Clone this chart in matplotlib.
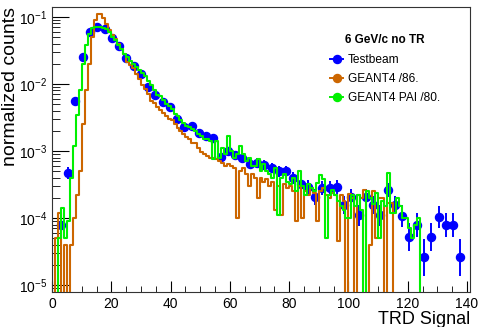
import numpy as np
import matplotlib
matplotlib.use("Agg")
import matplotlib.pyplot as plt
from matplotlib.lines import Line2D
from matplotlib.ticker import LogLocator, MultipleLocator, NullFormatter

plt.rcParams['font.family'] = ['Liberation Sans', 'DejaVu Sans']
plt.rcParams['mathtext.fontset'] = 'custom'
plt.rcParams['mathtext.rm'] = 'Liberation Sans'
plt.rcParams['mathtext.it'] = 'Liberation Sans:italic'
plt.rcParams['mathtext.bf'] = 'Liberation Sans:bold'

# testbeam: bin width and first bin centre (TRD signal units)
tb_first = 3.0
tb_width = 2.45
tb_counts = [7.9e-5, 4.7e-4, 5.6e-3, 2.53e-2, 5.97e-2, 7.1e-2, 6.6e-2, 4.86e-2, 3.69e-2, 2.44e-2,
             1.86e-2, 1.41e-2, 9.0e-3, 6.85e-3, 5.38e-3, 4.54e-3, 3.0e-3, 2.28e-3, 2.36e-3, 1.86e-3,
             1.67e-3, 1.56e-3, 8.1e-4, 1.0e-3, 8.7e-4, 7.9e-4, 6.4e-4, 6.6e-4, 6.2e-4, 5.6e-4,
             5.0e-4, 5.0e-4, 3.95e-4, 3.2e-4, 2.9e-4, 2.06e-4, 2.8e-4, 2.8e-4, 2.9e-4, 1.56e-4,
             2.06e-4, 1.11e-4, 2.06e-4, 1.56e-4, 1.11e-4, 2.62e-4, 1.56e-4, 1.07e-4, 5.2e-5, 7.9e-5,
             2.6e-5, 5.2e-5, 1.04e-4, 7.9e-5, 7.9e-5, 2.6e-5]
one_count = 2.1e-5  # approx. normalized value of a single entry

# simulations, 1 unit bins starting at 0
sim_width = 1.0
g4_counts = [0, 5e-5, 1.2e-4, 0, 4e-5, 0, 4e-5, 1e-4, 2.2e-4, 5e-4,
             2.5e-3, 8e-3, 2.0e-2, 5.0e-2, 0.09, 0.112, 0.112, 0.095, 0.078, 0.064,
             0.053, 0.046, 0.040, 0.033, 0.028, 0.021, 0.019, 0.017, 0.014, 0.012,
             0.0098, 0.0085, 0.0072, 0.0055, 0.0052, 0.0046, 0.0041, 0.0037, 0.0033, 0.0030,
             0.0029, 0.0025, 0.0022, 0.0020, 0.0018, 0.0016, 0.0015, 0.0013, 0.0013, 0.0011,
             9.8e-4, 9e-4, 8.5e-4, 8e-4, 7.9e-4, 7.5e-4, 7e-4, 6.6e-4, 6e-4, 6.5e-4,
             6e-4, 5.5e-4, 1e-4, 5e-4, 5.5e-4, 4.5e-4, 3e-4, 4.5e-4, 4e-4, 2e-4,
             4e-4, 3.5e-4, 3.8e-4, 3e-4, 3.5e-4, 1.3e-4, 3e-4, 1.1e-4, 3.2e-4, 2.8e-4,
             3e-4, 2.5e-4, 9e-5, 3e-4, 1e-4, 2.5e-4, 2.2e-4, 2.8e-4, 2.4e-4, 9e-5,
             2.5e-4, 2.8e-4, 2.2e-4, 2.0e-4, 2.4e-4, 2.2e-4, 4.5e-5, 2.2e-4, 1.8e-4, 0,
             2.3e-4, 2.0e-4, 0, 2.2e-4, 2.0e-4, 2.6e-4, 0, 4e-5, 2.5e-4, 5e-5,
             2.0e-4, 2.0e-4, 0, 1.7e-4, 1.7e-4, 0, 0, 0, 0, 0]
pai_counts = [0, 0, 5e-5, 1.4e-4, 5e-5, 9e-5, 4e-4, 1.2e-3, 3.5e-3, 8e-3,
              0.02, 0.038, 0.055, 0.068, 0.071, 0.071, 0.070, 0.068, 0.066, 0.060,
              0.050, 0.045, 0.038, 0.033, 0.028, 0.025, 0.022, 0.020, 0.018, 0.016,
              0.0145, 0.013, 0.011, 0.0095, 0.0080, 0.0068, 0.0065, 0.0058, 0.0050, 0.0047,
              0.0042, 0.0036, 0.0033, 0.0029, 0.0026, 0.0024, 0.0023, 0.0021, 0.0020, 0.0018,
              0.0017, 0.0015, 0.0015, 0.0014, 7.5e-4, 1.4e-3, 8e-4, 1.1e-3, 9e-4, 1.7e-3,
              1.0e-3, 8e-4, 9e-4, 1.2e-3, 9e-4, 7e-4, 8e-4, 6e-4, 6e-4, 7.5e-4,
              5e-4, 6.5e-4, 5e-4, 4.5e-4, 4e-4, 5.5e-4, 1.1e-4, 4e-4, 4.5e-4, 3.5e-4,
              3.2e-4, 4e-4, 2.5e-4, 5e-4, 3e-4, 2.2e-4, 3.2e-4, 2.8e-4, 2.5e-4, 3.3e-4,
              4.4e-4, 3.8e-4, 5e-5, 2.2e-4, 2.6e-4, 2.2e-4, 1.8e-4, 1.5e-4, 1.3e-4, 1.0e-4,
              1.0e-4, 2.2e-4, 1.5e-4, 2.2e-4, 1.3e-4, 0, 2.5e-4, 2.0e-4, 1.6e-4, 2.4e-4,
              5e-5, 1.8e-4, 1.5e-4, 4.7e-4, 1.2e-4, 1.2e-4, 2.0e-4, 1.5e-4, 1.0e-4, 1.0e-4,
              7e-5, 5e-5, 8e-5, 1.0e-4, 0, 0, 0, 0]

labels = ['Testbeam', 'GEANT4 /86.', 'GEANT4 PAI /80.']
header = '6 GeV/c no TR'

c_tb = '#0000ff'
c_g4 = '#cc6600'
c_pai = '#00f000'

fig = plt.figure(figsize=(4.82, 3.27), dpi=100)
ax = fig.add_axes([0.108, 0.107, 0.867, 0.872])

# testbeam points
tb_y = np.array(tb_counts)
tb_x = tb_first + tb_width * np.arange(len(tb_y))
fac = 1 + 1 / np.sqrt(tb_y / one_count)
yerr = [tb_y - tb_y / fac, tb_y * fac - tb_y]
ax.errorbar(tb_x, tb_y, yerr=yerr, fmt='o', color=c_tb, ms=5.8, elinewidth=1.4,
            capsize=0, zorder=2)

# simulated histograms (empty bins drop to the bottom like ROOT)
def draw_hist(vals, color, z):
    vals = np.array(vals, dtype=float)
    edges = np.arange(len(vals) + 1) * sim_width
    vals = np.where(vals > 0, vals, 1e-9)
    ax.step(edges, np.append(vals, vals[-1]), where='post', color=color, lw=1.5, zorder=z)

draw_hist(g4_counts, c_g4, 3)
draw_hist(pai_counts, c_pai, 4)

ax.set_yscale('log')
ax.set_xlim(0, 141)
ax.set_ylim(7.9e-6, 0.141)

ax.xaxis.set_major_locator(MultipleLocator(20))
ax.xaxis.set_minor_locator(MultipleLocator(5))
ax.yaxis.set_major_locator(LogLocator(base=10))
ax.yaxis.set_minor_locator(LogLocator(base=10, subs=np.arange(2, 10)))
ax.yaxis.set_minor_formatter(NullFormatter())
ax.tick_params(which='both', direction='in', top=False, right=False, labelsize=10)
ax.tick_params(axis='y', which='major', length=12)
ax.tick_params(axis='y', which='minor', length=6)
ax.tick_params(axis='x', which='major', length=8)
ax.tick_params(axis='x', which='minor', length=4)
for s in ax.spines.values():
    s.set_color('#333333')

ax.set_xlabel('TRD Signal', fontsize=13, loc='right', labelpad=0)
ax.set_ylabel('normalized counts', fontsize=14, loc='top', labelpad=0)

handles = [Line2D([], [], color=c, marker='o', ms=5.8, lw=1.4) for c in (c_tb, c_g4, c_pai)]
leg = ax.legend(handles, labels, title=header, loc='upper left',
                bbox_to_anchor=(0.665, 0.905), frameon=False, fontsize=8.6,
                handlelength=1.1, handletextpad=0.4, borderpad=0, borderaxespad=0,
                labelspacing=0.58, title_fontproperties={'weight': 'bold', 'size': 8.5})
leg._legend_box.sep = 6

fig.savefig('out.png', dpi=100)
